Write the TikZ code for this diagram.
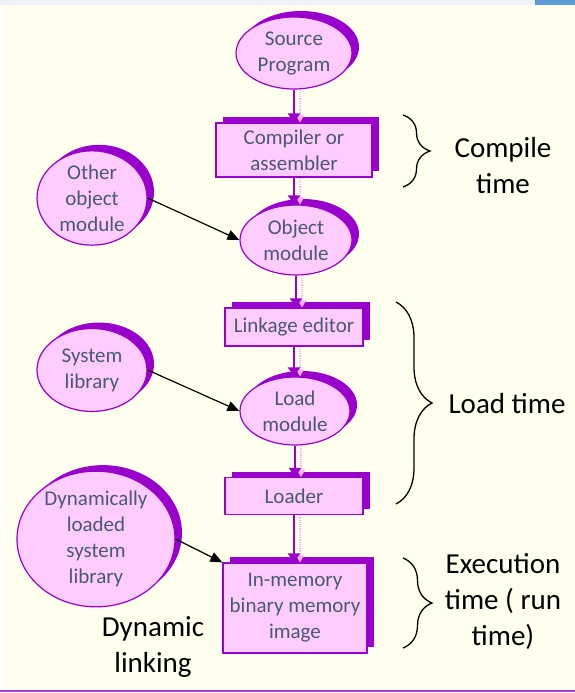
\documentclass[tikz,border=0pt]{standalone}
\usepackage{fontspec}
\setmainfont{Carlito}
\usetikzlibrary{shapes.geometric,shadows,arrows.meta,decorations.pathreplacing}

\definecolor{paper}{HTML}{FFFFEE}
\definecolor{topband}{HTML}{EEF2F8}
\definecolor{logoblue}{HTML}{5B9BD5}
\definecolor{edgepurple}{HTML}{9900CC}
\definecolor{fillpink}{HTML}{FFCCFF}
\definecolor{ghostpink}{HTML}{FFB0FF}
\definecolor{slatetext}{HTML}{4A5878}
\definecolor{rulepurple}{HTML}{A040D0}

\tikzset{
  stage/.style={draw=edgepurple, line width=1.2pt, fill=fillpink,
    general shadow={fill=edgepurple, shadow xshift=7pt, shadow yshift=6pt},
    text=slatetext, align=center, inner sep=0pt,
    font=\fontsize{21}{26}\selectfont},
  oval/.style={stage, ellipse},
  boxstage/.style={stage, rectangle},
  flow/.style={draw=edgepurple, line width=2.8pt, -{Triangle[length=9pt,width=12pt]}},
  ghost/.style={draw=ghostpink, line width=1.2pt, densely dotted, -{Triangle[length=7pt,width=8pt]}},
  link/.style={draw=black, line width=1.2pt, -{Triangle[length=12pt,width=10pt]}},
  brace/.style={draw=black, line width=1.3pt, decorate},
  phase/.style={text=black, align=center, font=\fontsize{29}{36}\selectfont},
}

\begin{document}
\begin{tikzpicture}[x=1pt, y=-1pt]
  \useasboundingbox (0,0) rectangle (575,693);
  % page background
  \fill[paper] (0,0) rectangle (575,693);
  \fill[topband] (0,0) rectangle (575,5);
  \fill[logoblue] (535,0) rectangle (575,5);
  \fill[white, opacity=0.6] (0,5) rectangle (6,690);
  \draw[rulepurple, line width=2pt] (0,691) -- (575,691);

  % main chain
  \node[oval, minimum width=116pt, minimum height=72pt] (src) at (294,53) {Source\\Program};
  \node[boxstage, minimum width=156pt, minimum height=54pt] (comp) at (294,150) {Compiler or\\assembler};
  \node[oval, minimum width=112pt, minimum height=70pt] (obj) at (296,240) {Object\\module};
  \node[boxstage, minimum width=138pt, minimum height=38pt] (linked) at (294,327) {Linkage editor};
  \node[oval, minimum width=110pt, minimum height=68pt] (load) at (295,411) {Load\\module};
  \node[boxstage, minimum width=138pt, minimum height=37pt] (loader) at (294,496) {Loader};
  \node[boxstage, minimum width=144pt, minimum height=90pt] (inmem) at (295,608) {In-memory\\binary memory\\image};

  % side inputs
  \node[oval, minimum width=110pt, minimum height=86pt] (other) at (92,198) {Other\\object\\module};
  \node[oval, minimum width=110pt, minimum height=83pt] (syslib) at (92,370) {System\\library};
  \node[oval, minimum width=158pt, minimum height=128pt] (dyn) at (96,539) {Dynamically\\loaded\\system\\library};

  % downward flow with its pale companion arrows
  \foreach \a/\b in {src/comp, comp/obj, obj/linked, linked/load, load/loader, loader/inmem} {
    \draw[ghost] ([xshift=6pt]\a.south) -- ([xshift=6pt]\a.south |- \b.north);
    \draw[flow] (\a.south) -- (\a.south |- \b.north);
  }

  % side links
  \draw[link] (other.east) -- (obj.west);
  \draw[link] (syslib.east) -- (load.west);
  \draw[link] (dyn.east) -- (inmem.north west);

  % phase braces
  \coordinate (cbt) at (403,115);
  \coordinate (cbb) at (403,187);
  \draw[brace, decoration={brace, amplitude=27pt}] (cbt) -- (cbb);
  \node[phase] (compile) at (503,166) {Compile\\time};

  \coordinate (lbt) at (396,302);
  \coordinate (lbb) at (396,504);
  \draw[brace, decoration={brace, amplitude=36pt}] (lbt) -- (lbb);
  \node[phase] (loadtime) at (507,404) {Load time};

  \coordinate (ebt) at (403,558);
  \coordinate (ebb) at (403,648);
  \draw[brace, decoration={brace, amplitude=29pt}] (ebt) -- (ebb);
  \node[phase] (exec) at (503,601) {Execution\\time ( run\\time)};

  \node[phase] (dynlink) at (153,647) {Dynamic\\linking};
\end{tikzpicture}
\end{document}
